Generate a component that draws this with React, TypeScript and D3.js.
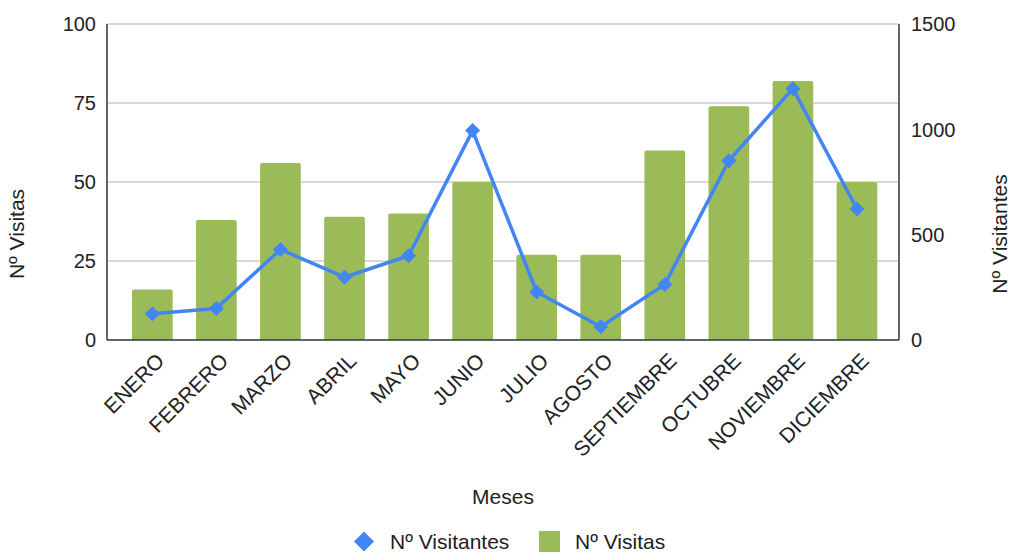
import React from "react";
import * as d3 from "d3";

const months = ["ENERO","FEBRERO","MARZO","ABRIL","MAYO","JUNIO","JULIO","AGOSTO","SEPTIEMBRE","OCTUBRE","NOVIEMBRE","DICIEMBRE"];
const visitas = [16, 38, 56, 39, 40, 50, 27, 27, 60, 74, 82, 50];
const visitantes = [125, 150, 430, 298, 400, 994, 228, 63, 264, 851, 1193, 622];
const leftTicks = [0, 25, 50, 75, 100];
const rightTicks = [0, 500, 1000, 1500];

const W = 1011, H = 552;
const plotL = 107, plotR = 899, plotT = 24, plotB = 340;
const FONT = "Arial, 'Liberation Sans', sans-serif";
const BAR = "#9bbb59";
const LINE = "#4285f4";

export default function App() {
  const x = d3.scaleBand<string>().domain(months).range([120.3, 889]).paddingInner(0.365).paddingOuter(0.1825);
  const yL = d3.scaleLinear().domain([0, 100]).range([plotB, plotT]);
  const yR = d3.scaleLinear().domain([0, 1500]).range([plotB, plotT]);
  const cx = (m: string) => (x(m) as number) + x.bandwidth() / 2;
  const line = d3.line<number>().x((_, i) => cx(months[i])).y((d) => yR(d));
  const diamond = (px: number, py: number, r: number) =>
    `M${px},${py - r}L${px + r},${py}L${px},${py + r}L${px - r},${py}Z`;

  return (
    <svg width={W} height={H} style={{ position: "absolute", left: 0, top: 0, background: "#fff" }} fontFamily={FONT}>
      {leftTicks.map((t) => (
        <g key={"g" + t}>
          {t > 0 && <line x1={plotL} x2={plotR} y1={yL(t)} y2={yL(t)} stroke="#cccccc" strokeWidth={1.3} />}
          <text x={96} y={yL(t)} dy="0.36em" textAnchor="end" fontSize={20} fill="#222">{t}</text>
        </g>
      ))}
      {rightTicks.map((t) => (
        <text key={"r" + t} x={911} y={yR(t)} dy="0.36em" textAnchor="start" fontSize={20} fill="#222">{t}</text>
      ))}
      {months.map((m, i) => {
        const x0 = x(m) as number, w = x.bandwidth(), y0 = yL(visitas[i]);
        const r = 2;
        return (
          <path key={m} fill={BAR}
            d={`M${x0},${plotB}L${x0},${y0 + r}Q${x0},${y0} ${x0 + r},${y0}L${x0 + w - r},${y0}Q${x0 + w},${y0} ${x0 + w},${y0 + r}L${x0 + w},${plotB}Z`} />
        );
      })}
      <line x1={plotL} x2={plotL} y1={plotT} y2={plotB} stroke="#333" strokeWidth={1.5} />
      <line x1={plotR} x2={plotR} y1={plotT} y2={plotB} stroke="#333" strokeWidth={1.5} />
      <line x1={plotL} x2={plotR} y1={plotB} y2={plotB} stroke="#333" strokeWidth={1.5} />
      <path d={line(visitantes) || ""} fill="none" stroke={LINE} strokeWidth={3.5} strokeLinejoin="round" />
      {visitantes.map((v, i) => (
        <path key={"d" + i} d={diamond(cx(months[i]), yR(v), 7.5)} fill={LINE} />
      ))}
      {months.map((m) => (
        <text key={"l" + m} transform={`translate(${cx(m) + 8},${357}) rotate(-45)`} textAnchor="end" fontSize={21} fill="#222" dy="0.35em">{m}</text>
      ))}
      <text transform={`translate(24,234) rotate(-90)`} textAnchor="middle" fontSize={21} fill="#222">Nº Visitas</text>
      <text transform={`translate(1007,234) rotate(-90)`} textAnchor="middle" fontSize={21} fill="#222">Nº Visitantes</text>
      <text x={503} y={504} textAnchor="middle" fontSize={21} fill="#222">Meses</text>
      <path d={diamond(364, 541.5, 10)} fill={LINE} />
      <text x={390} y={548.5} fontSize={21} fill="#222">Nº Visitantes</text>
      <rect x={539} y={531} width={21} height={21} fill={BAR} />
      <text x={575} y={548.5} fontSize={21} fill="#222">Nº Visitas</text>
    </svg>
  );
}
